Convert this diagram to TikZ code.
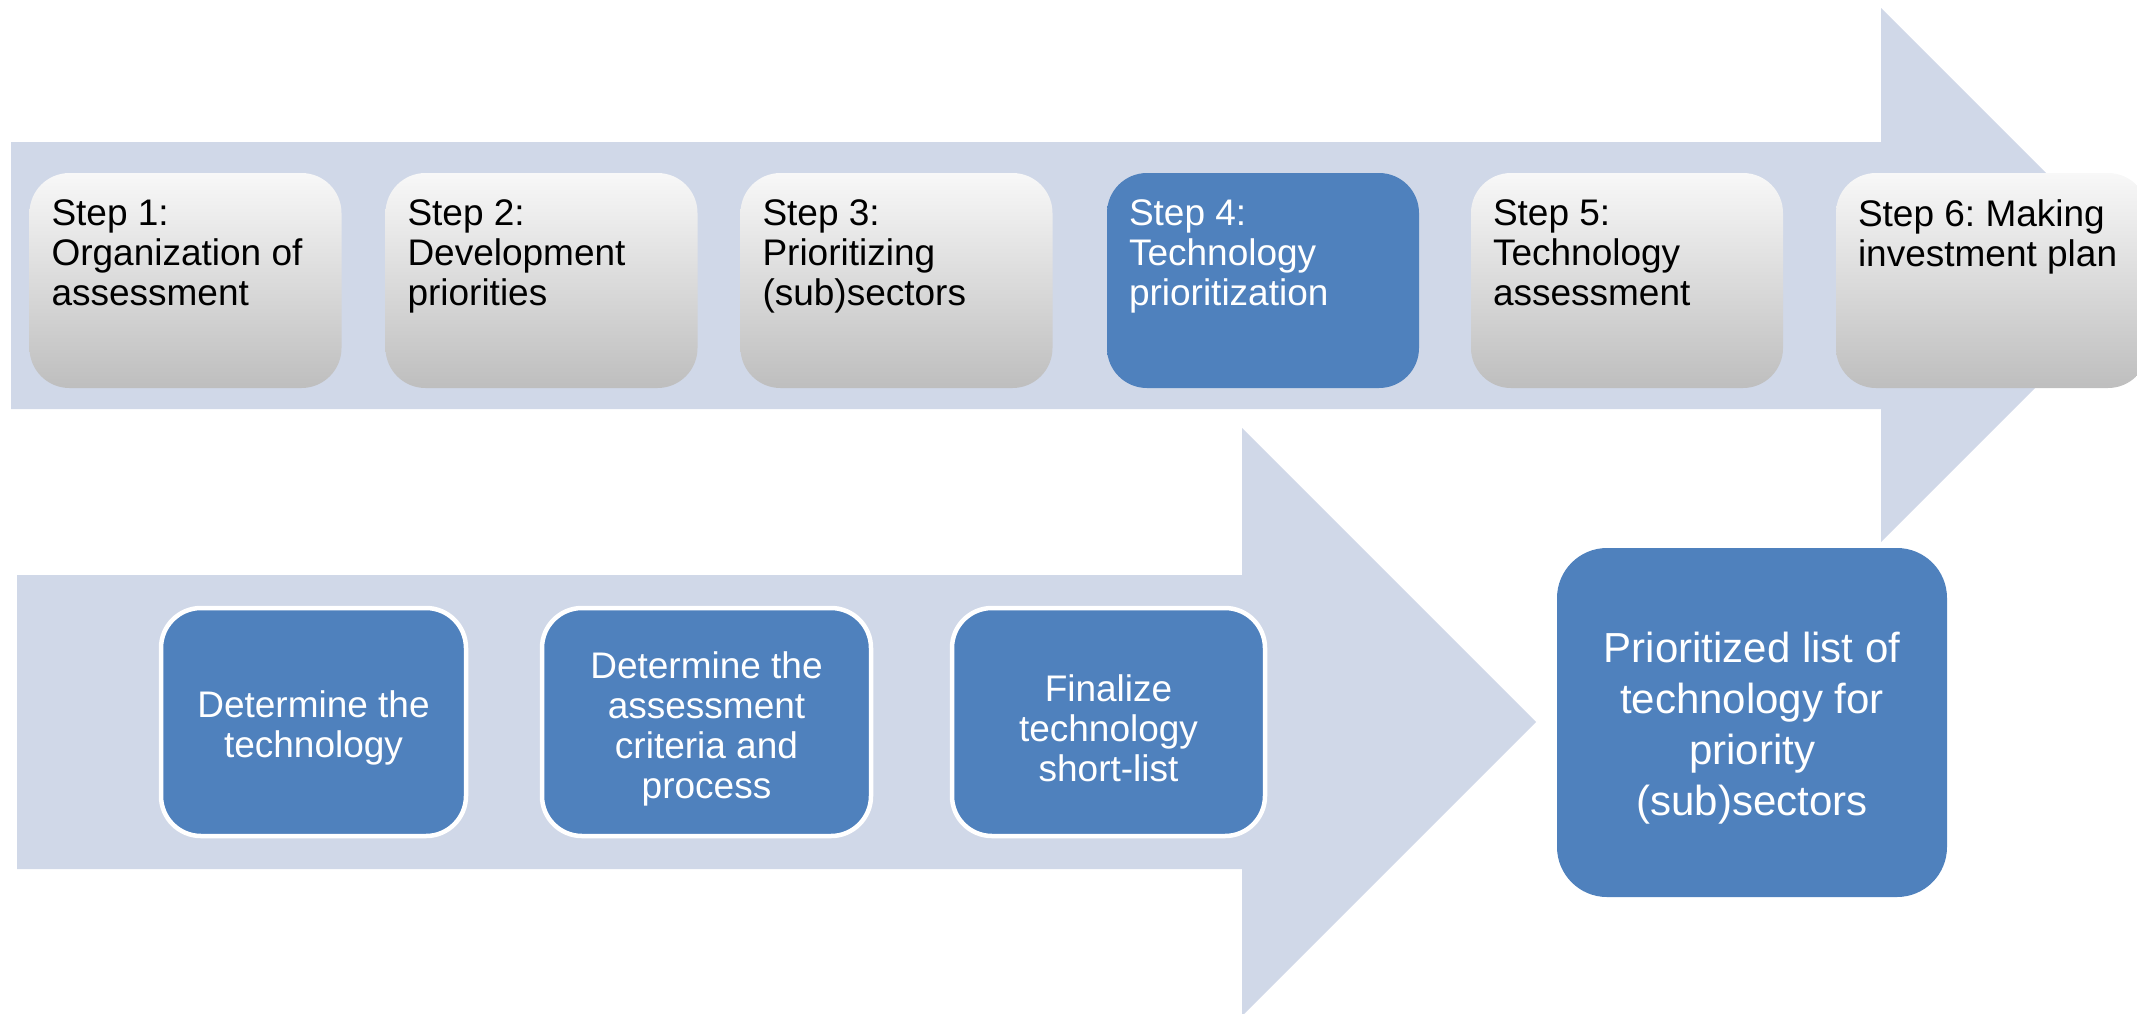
\documentclass[tikz,border=0pt]{standalone}
\usepackage{fontspec}
\setmainfont{Liberation Sans}
\usetikzlibrary{calc}
\frenchspacing

\begin{document}
\begin{tikzpicture}[x=0.5pt,y=0.5pt,yscale=-1,xscale=1,
  stepbox/.style={rounded corners=20pt, minimum width=156pt, minimum height=107.5pt, inner sep=0pt},
  steptext/.style={anchor=north west, inner sep=0pt, align=left, font=\fontsize{18.5}{20}\selectfont},
  subbox/.style={draw=white, line width=2.25pt, fill=stepblue, rounded corners=20pt,
    minimum height=114pt, inner sep=0pt},
  subtext/.style={text=white, align=center, inner sep=0pt, font=\fontsize{18.5}{20}\selectfont},
  resultbox/.style={fill=stepblue, rounded corners=25pt,
    minimum width=195pt, minimum height=174.5pt, inner sep=0pt},
  resulttext/.style={text=white, align=center, inner sep=0pt, font=\fontsize{21}{25.5}\selectfont}]

% --- CONFIGURATION ---
\definecolor{arrowfill}{RGB}{208, 216, 232} % Light Blue-Grey
\definecolor{stepblue}{RGB}{79, 129, 189}   % Blue
\definecolor{greytop}{RGB}{248, 248, 248}   % Near White
\definecolor{greybot}{RGB}{190, 190, 190}   % Grey

\useasboundingbox (0,0) rectangle (2137,1013);
\clip (0,0) rectangle (2137,1013);

% --- BIG ARROWS ---
\fill[arrowfill] (11,142) -- (1881,142) -- (1881,8) -- (2148,275) -- (1881,542) -- (1881,409) -- (11,409) -- cycle;
\fill[arrowfill] (17,575) -- (1242,575) -- (1242,428) -- (1536,722) -- (1242,1016) -- (1242,869) -- (17,869) -- cycle;

% --- TOP ROW (Steps) ---
\foreach \n/\cx/\ct/\cb/\cf/\txt in {
    1/185.5/greytop/greybot/black/{Step 1:\\Organization of\\assessment},
    2/541.5/greytop/greybot/black/{Step 2:\\Development\\priorities},
    3/896.5/greytop/greybot/black/{Step 3:\\Prioritizing\\(sub)sectors},
    4/1263/stepblue/stepblue/white/{Step 4:\\Technology\\prioritization},
    5/1627/greytop/greybot/black/{Step 5:\\Technology\\assessment},
    6/1992/greytop/greybot/black/{Step 6: Making\\investment plan}}
{
    \node[stepbox, top color=\ct, bottom color=\cb] (step\n) at (\cx, 280.5) {};
    \node[steptext, text=\cf] (step\n text) at ($(step\n.north west)+(22,27)$) {\txt};
}

% --- BOTTOM ROW (Step 4 details) ---
\node[subbox, minimum width=152.5pt] (dtech) at (313.5, 722) {};
\node[subbox, minimum width=164.5pt] (dcrit) at (706.5, 722) {};
\node[subbox, minimum width=156.5pt] (final) at (1108.5, 722) {};

\node[subtext] (dtech text) at ($(dtech)+(0,6)$) {Determine the\\technology};
\node[subtext] (dcrit text) at ($(dcrit)+(0,7)$) {Determine the\\assessment\\criteria and\\process};
\node[subtext] (final text) at ($(final)+(0,6)$) {Finalize\\technology\\short-list};

% --- RESULT ---
\node[resultbox] (plist) at (1752, 722.5) {};
\node[resulttext] (plist text) at ($(plist)+(0,6)$) {Prioritized list of\\technology for\\priority\\(sub)sectors};

\end{tikzpicture}
\end{document}
